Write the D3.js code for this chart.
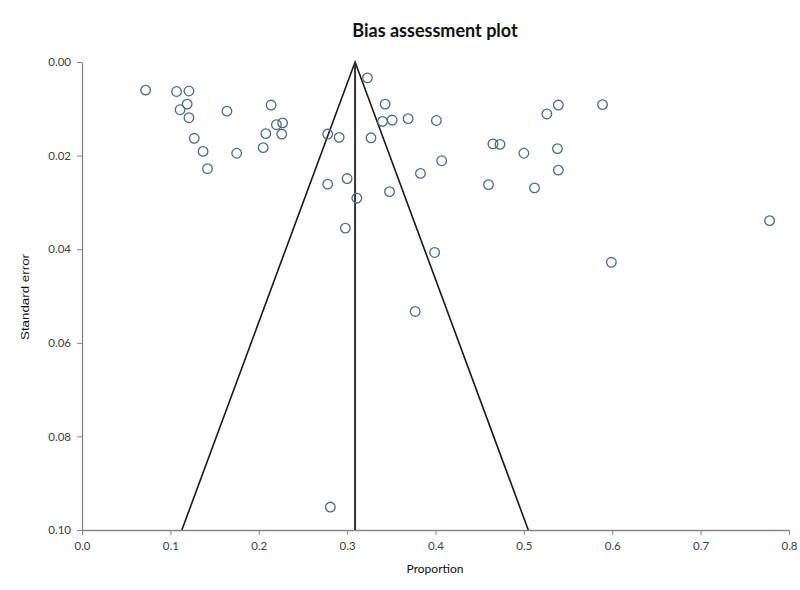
<!DOCTYPE html>
<html><head><meta charset="utf-8">
<script src="https://cdn.jsdelivr.net/npm/d3@7"></script>
<style>body{margin:0;background:#fff}svg{display:block}</style>
</head><body>
<svg id="chart" width="800" height="590"></svg>
<script>
const proportion = [0.072,0.107,0.121,0.119,0.111,0.121,0.164,0.214,0.220,0.227,0.208,0.226,0.127,0.137,0.175,0.205,0.142,0.278,0.291,0.327,0.323,0.343,0.340,0.351,0.369,0.401,0.407,0.383,0.278,0.300,0.348,0.311,0.298,0.399,0.377,0.281,0.526,0.539,0.589,0.465,0.473,0.500,0.538,0.539,0.460,0.512,0.778,0.599];
const standardError = [0.0060,0.0063,0.0062,0.0090,0.0102,0.0119,0.0105,0.0092,0.0134,0.0130,0.0153,0.0154,0.0163,0.0191,0.0195,0.0183,0.0228,0.0154,0.0161,0.0162,0.0034,0.0090,0.0127,0.0124,0.0121,0.0125,0.0211,0.0238,0.0261,0.0249,0.0277,0.0291,0.0355,0.0407,0.0533,0.0951,0.0111,0.0092,0.0091,0.0175,0.0176,0.0195,0.0185,0.0231,0.0262,0.0269,0.0339,0.0428];
const pooledProportion = 0.309;
const zValue = 1.96;
const xTicks = [0,0.1,0.2,0.3,0.4,0.5,0.6,0.7,0.8];
const yTicks = [0,0.02,0.04,0.06,0.08,0.10];
const titleText = "Bias assessment plot";
const xLabel = "Proportion";
const yLabel = "Standard error";

const svg = d3.select("#chart");
const x = d3.scaleLinear().domain([0,0.8]).range([82,789]);
const y = d3.scaleLinear().domain([0,0.10]).range([62,530]);
const axisColor = "#868686";
const textColor = "#404040";

// axes
const xAxis = svg.append("g").attr("transform","translate(0,530)")
  .call(d3.axisBottom(x).tickValues(xTicks).tickFormat(d3.format(".1f")).tickSize(5).tickSizeOuter(0));
const yAxis = svg.append("g").attr("transform","translate(82,0)")
  .call(d3.axisLeft(y).tickValues(yTicks).tickFormat(d3.format(".2f")).tickSize(5).tickSizeOuter(0));
[xAxis,yAxis].forEach(a=>{
  a.select(".domain").attr("stroke",axisColor).attr("stroke-width",1.3);
  a.selectAll(".tick line").attr("stroke",axisColor).attr("stroke-width",1);
  a.selectAll(".tick text").attr("fill",textColor).attr("font-family","Lato, 'Open Sans', sans-serif").attr("font-size",11.5);
});
xAxis.selectAll(".tick text").attr("dy","1.05em");
yAxis.selectAll(".tick text").attr("x",-11);

// funnel
const seMax = 0.10;
const funnel = [[pooledProportion - zValue*seMax, seMax],[pooledProportion,0],[pooledProportion + zValue*seMax, seMax]];
svg.append("path").attr("d", d3.line().x(d=>x(d[0])).y(d=>y(d[1]))(funnel))
  .attr("fill","none").attr("stroke","#1a1a1a").attr("stroke-width",1.6);
svg.append("line").attr("x1",x(pooledProportion)).attr("x2",x(pooledProportion))
  .attr("y1",y(0)).attr("y2",y(seMax)).attr("stroke","#333").attr("stroke-width",2);

// points
svg.append("g").selectAll("circle").data(proportion.map((p,i)=>[p,standardError[i]])).join("circle")
  .attr("cx",d=>x(d[0])).attr("cy",d=>y(d[1])).attr("r",4.8)
  .attr("fill","none").attr("stroke","#4a6896").attr("stroke-width",1.3);

// titles
svg.append("text").attr("x",435).attr("y",37).attr("text-anchor","middle")
  .attr("font-family","Lato, 'Open Sans', sans-serif").attr("font-weight","bold").attr("font-size",18).attr("fill","#111").text(titleText);
svg.append("text").attr("x",435).attr("y",573).attr("text-anchor","middle")
  .attr("font-family","Lato, 'Open Sans', sans-serif").attr("font-size",12).attr("fill","#111").text(xLabel);
svg.append("text").attr("transform","translate(29,297) rotate(-90)").attr("text-anchor","middle")
  .attr("font-family","'Liberation Sans', Arial, sans-serif").attr("font-size",11.5)
  .attr("textLength",86).attr("lengthAdjust","spacingAndGlyphs").attr("fill","#111").text(yLabel);
</script>
</body></html>
